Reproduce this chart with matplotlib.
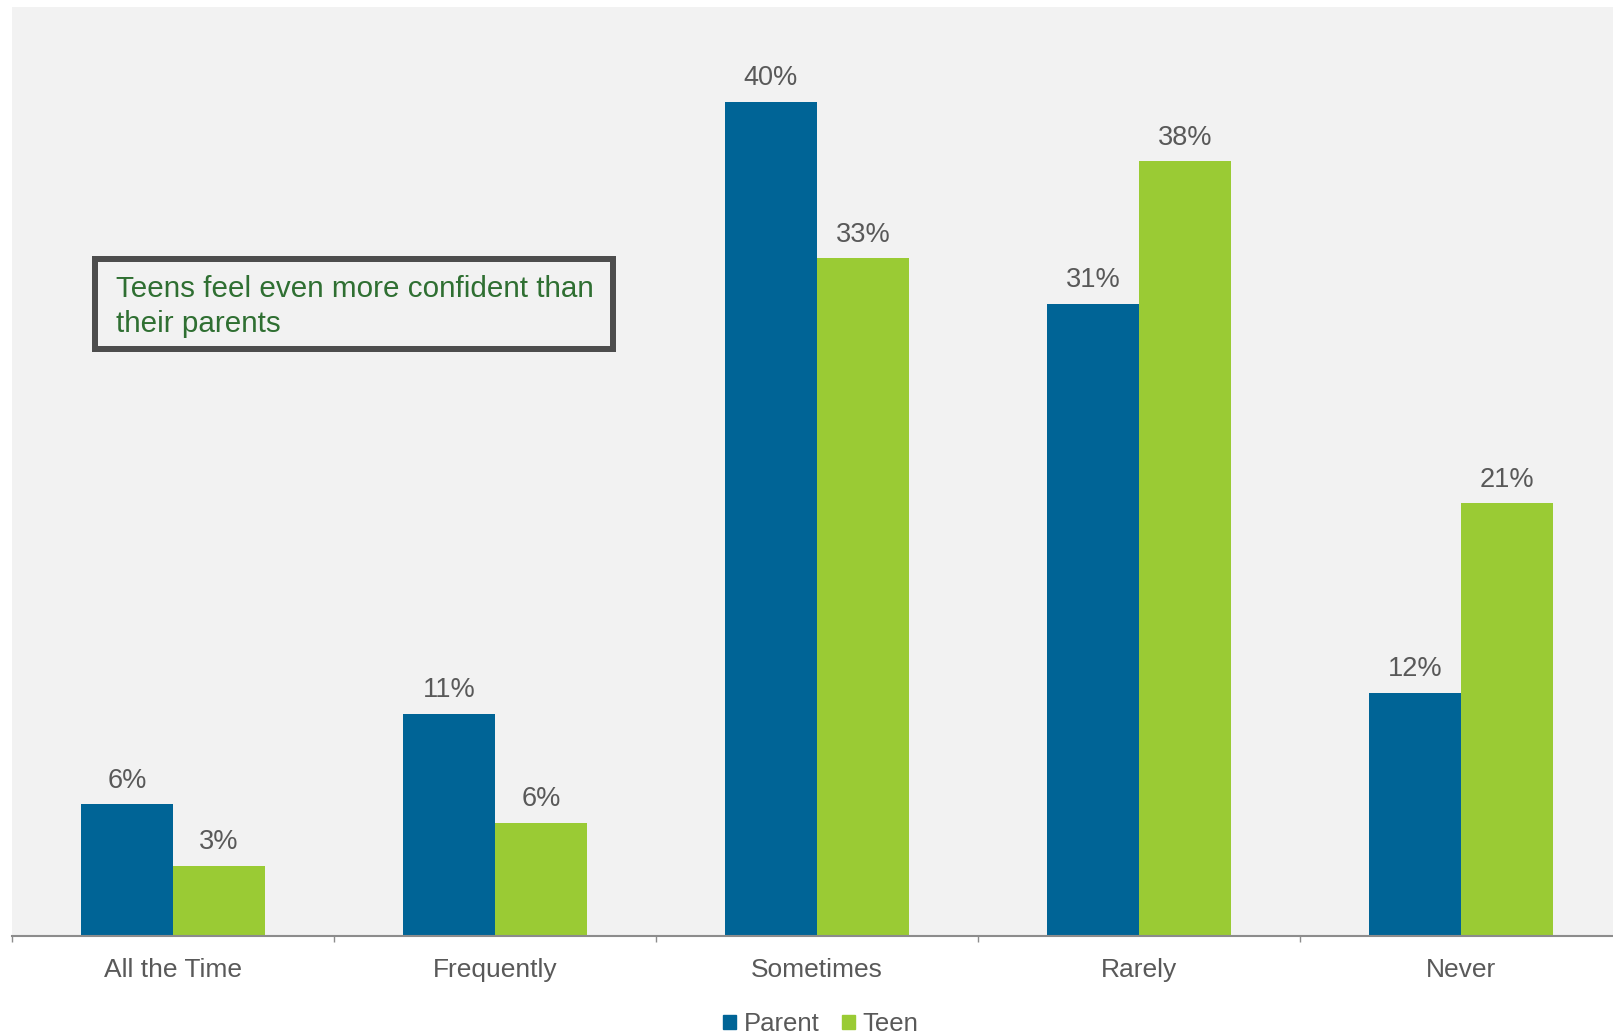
import matplotlib
matplotlib.use("Agg")
import matplotlib.pyplot as plt
from matplotlib.patches import Rectangle, Patch
import numpy as np

categories = ["All the Time", "Frequently", "Sometimes", "Rarely", "Never"]
parent_values = [6.4, 10.8, 40.5, 30.7, 11.8]
teen_values = [3.4, 5.5, 32.9, 37.6, 21.0]
parent_labels = ["6%", "11%", "40%", "31%", "12%"]
teen_labels = ["3%", "6%", "33%", "38%", "21%"]
series_names = ["Parent", "Teen"]
note_lines = ["Teens feel even more confident than", "their parents"]

plt.rcParams['font.family'] = ['Liberation Sans', 'DejaVu Sans']

W, H = 1613, 1036
fig = plt.figure(figsize=(W / 100, H / 100), dpi=100)

left_px, right_px, top_px, base_px = 12, 1622, 7, 936
ax = fig.add_axes([left_px / W, 1 - base_px / H, (right_px - left_px) / W, (base_px - top_px) / H])
ax.set_facecolor('#f2f2f2')

blue = '#006496'
green = '#9acb34'
txt = '#595959'

x = np.arange(len(categories))
bw = 92 / 322
b1 = ax.bar(x - bw / 2, parent_values, bw, color=blue, label=series_names[0])
b2 = ax.bar(x + bw / 2, teen_values, bw, color=green, label=series_names[1])

for bars, labs in ((b1, parent_labels), (b2, teen_labels)):
    for rect, lab in zip(bars, labs):
        ax.annotate(lab, (rect.get_x() + rect.get_width() / 2, rect.get_height()),
                    xytext=(0, 12), textcoords='offset points', ha='center', va='baseline',
                    fontsize=19.5, color=txt)

ax.set_xlim(-0.5, len(categories) - 0.5)
ax.set_ylim(0, 45.1)
ax.set_yticks([])
ax.set_xticks(x)
ax.set_xticklabels(categories, fontsize=19, color=txt)
ax.set_xticks(np.arange(len(categories) + 1) - 0.5, minor=True)
ax.tick_params(axis='x', which='major', length=0, pad=16)
ax.tick_params(axis='x', which='minor', length=4.5, width=1, color='#8c8c8c', direction='out')
for s in ('top', 'right', 'left'):
    ax.spines[s].set_visible(False)
ax.spines['bottom'].set_color('#8c8c8c')
ax.spines['bottom'].set_linewidth(1.5)

# annotation box (outer edge approx 91..616 x, 256..352 y in pixels)
lw_px = 6
fig.patches.append(Rectangle(((91.5 + lw_px / 2) / W, 1 - (352 - lw_px / 2) / H),
                             (616 - 91.5 - lw_px) / W, (352 - 256 - lw_px) / H,
                             transform=fig.transFigure, fill=False,
                             edgecolor='#4d4d4d', linewidth=lw_px * 0.72, zorder=5))
for line, base in zip(note_lines, (297, 332)):
    fig.text(116 / W, 1 - base / H, line, fontsize=21.3, color='#2f6f32',
             ha='left', va='baseline', zorder=6)

handles = [Patch(color=blue), Patch(color=green)]
fig.legend(handles, series_names, loc='center', bbox_to_anchor=(0.509, 1 - 1024 / H),
           ncol=2, frameon=False, fontsize=18.5, labelcolor=txt,
           handlelength=0.5, handleheight=0.5, handletextpad=0.31, columnspacing=0.85,
           borderpad=0)

fig.savefig('out.png', dpi=100, facecolor='white')
